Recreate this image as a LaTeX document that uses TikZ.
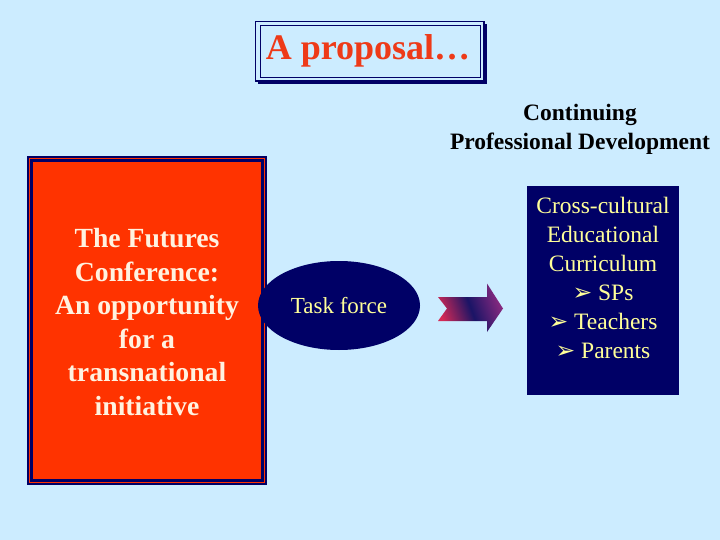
\documentclass[tikz,border=0pt]{standalone}
\usepackage{fontspec}
\setmainfont{Liberation Serif}
\newfontfamily\symfont{DejaVu Sans}
\usetikzlibrary{positioning,shapes.geometric}

\definecolor{skyback}{HTML}{CCECFF}
\definecolor{navy}{HTML}{000066}
\definecolor{brick}{HTML}{FF3300}
\definecolor{titlered}{HTML}{EE3A18}
\definecolor{cream}{HTML}{FFF2E0}
\definecolor{paleyellow}{HTML}{FFFF99}
\definecolor{arrowred}{HTML}{D42A55}
\definecolor{arrowmid}{HTML}{1A1466}
\definecolor{arrowplum}{HTML}{8A2A80}

\newcommand{\tick}{{\symfont\char"27A2}}

\begin{document}
\begin{tikzpicture}[x=1pt,y=-1pt,
  every node/.style={inner sep=0pt},
  titletext/.style={text=titlered,font=\fontsize{36}{40}\selectfont\bfseries},
  headtext/.style={align=center,font=\fontsize{23.5}{29}\selectfont\bfseries},
  boxtext/.style={align=center,text=cream,font=\fontsize{27.7}{33.6}\selectfont\bfseries},
  taskoval/.style={ellipse,fill=navy,text=paleyellow,minimum width=162pt,minimum height=89pt,font=\fontsize{23}{27}\selectfont},
  curbox/.style={rectangle,fill=navy,minimum width=152pt,minimum height=209pt},
  curtext/.style={align=center,text=paleyellow,font=\fontsize{23.5}{29}\selectfont}]

% background
\fill[skyback] (0,0) rectangle (720,540);
\useasboundingbox (0,0) rectangle (720,540);

% title
\fill[navy] (483,24) rectangle (487,84);
\fill[navy] (258,80) rectangle (487,84);
\draw[navy,line width=1.5pt] (255.5,21.5) rectangle (484,81);
\draw[navy,line width=1pt] (260,25.5) rectangle (480.5,77.5);
\node[titletext] (title) at (368,51) {A proposal\ldots};

\node[headtext] (cpd) at (580,129) {Continuing\\Professional Development};

% left box
\fill[navy] (27,156) rectangle (267,485);
\draw[brick,line width=0.6pt] (29.5,158.5) rectangle (264.5,482.5);
\fill[brick] (33,162) rectangle (261,479);
\node[boxtext] (futures) at (147,322) {The Futures\\Conference:\\An opportunity\\for a\\transnational\\initiative};

% task force
\node[taskoval] (task) at (339,305.5) {Task force};

% curriculum box
\node[curbox] (curric) at (603,290.5) {};
\node[curtext,below=11pt of curric.north] (curlist) {Cross-cultural\\Educational\\Curriculum\\\tick\ SPs\\\tick\ Teachers\\\tick\ Parents};

% block arrow
\shade[left color=arrowred,right color=arrowplum,middle color=arrowmid,shading angle=110]
  (438,297) -- (487,297) -- (487,283.5) -- (503,308.5) -- (487,332) -- (487,321)
  -- (438,321) -- (447,308.5) -- cycle;
\end{tikzpicture}
\end{document}
